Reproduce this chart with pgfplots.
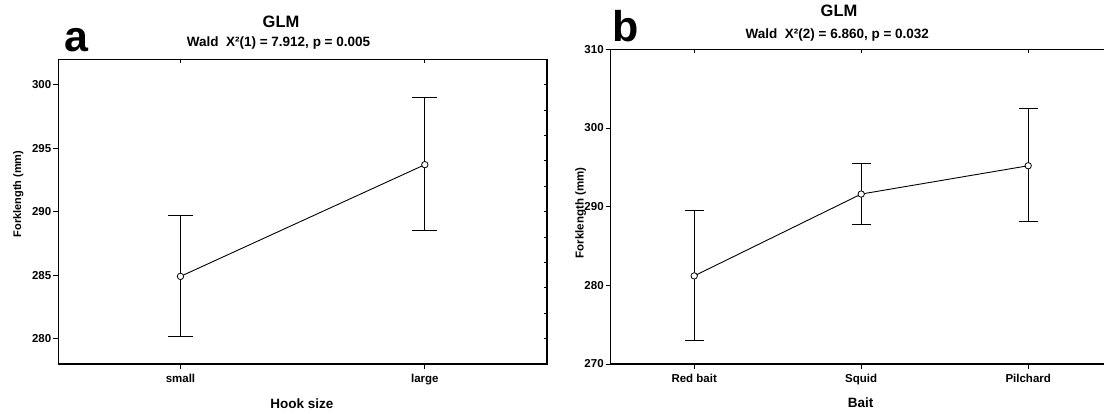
\documentclass[border=0pt]{standalone}
\usepackage{fontspec}
\setmainfont{Liberation Sans}
\usepackage{pgfplots}
\pgfplotsset{compat=1.18}
\usepackage{pgfplotstable}
\newcommand\fs[1]{\fontsize{#1}{#1}\selectfont\bfseries}

\pgfplotstableread{
x y ep em
0 284.9 4.8 4.7
1 293.7 5.3 5.2
}\hookdata
\pgfplotstableread{
x y ep em
0 281.2 8.3 8.2
1 291.6 3.9 3.8
2 295.2 7.3 7.1
}\baitdata

\pgfplotsset{
  mybase/.style={scale only axis, anchor=south west,
    /pgf/number format/assume math mode=true,
    ticklabel style={font=\fs{11.5}},
    tick style={black, line width=0.9pt},
    axis line style={line width=1.1pt}},
  mymain/.style={mybase, tick align=outside, xtick pos=left, ytick pos=left,
    major tick length=5pt,
    xticklabel style={yshift=-2pt},
    yticklabel style={xshift=1.5pt}},
  myover/.style={mybase, tick align=inside, xtick pos=right, ytick pos=right,
    major tick length=3.5pt, xticklabels={}, yticklabels={},
    axis line style={draw=none}},
  myplot/.style={black, line width=0.9pt, mark=*, mark size=3.2pt,
    mark options={fill=white, line width=0.8pt},
    error bars/.cd, y dir=both, y explicit,
    error bar style={line width=0.9pt},
    error mark options={rotate=90, mark size=#1, line width=0.9pt}},
}

\begin{document}
\begin{tikzpicture}
\path[use as bounding box] (0pt,0pt) rectangle (1104pt,413pt);

% ---------- panel a ----------
\begin{axis}[mymain, at={(58.3pt,49pt)}, width=488.7pt, height=304.7pt,
  xmin=-0.5, xmax=1.5, ymin=278, ymax=302,
  xtick={0,1}, xticklabels={small,large},
  ytick={280,285,...,300}]
\addplot+[myplot=12.5pt] table[x=x, y=y, y error plus=ep, y error minus=em] {\hookdata};
\end{axis}
\begin{axis}[myover, at={(58.3pt,49pt)}, width=488.7pt, height=304.7pt,
  xmin=-0.5, xmax=1.5, ymin=278, ymax=302,
  xtick={0,1}, ytick={280,282,...,300}]
\end{axis}

\node[anchor=base west, inner sep=0pt, font=\fs{43}] at (64.5pt,361pt) {a};
\node[anchor=base, inner sep=0pt, font=\fs{16.5}] at (281pt,385pt) {GLM};
\node[anchor=base, inner sep=0pt, font=\fs{13.5}] at (278.5pt,366pt) {Wald~~X²(1) = 7.912, p = 0.005};
\node[anchor=base, inner sep=0pt, font=\fs{13.5}] at (302pt,5pt) {Hook size};
\node[anchor=base, inner sep=0pt, rotate=90, font=\fs{11}] at (21.2pt,219pt) {Forklength (mm)};

% ---------- panel b ----------
\begin{axis}[mymain, at={(610.7pt,49pt)}, width=501pt, height=314.7pt,
  xmin=-0.5, xmax=2.5, ymin=270, ymax=310,
  xtick={0,1,2}, xticklabels={Red bait,Squid,Pilchard},
  ytick={270,280,...,310}]
\addplot+[myplot=9.3pt] table[x=x, y=y, y error plus=ep, y error minus=em] {\baitdata};
\end{axis}
\begin{axis}[myover, at={(610.7pt,49pt)}, width=501pt, height=314.7pt,
  xmin=-0.5, xmax=2.5, ymin=270, ymax=310,
  xtick={0,1,2}, ytick=\empty]
\end{axis}

\node[anchor=base west, inner sep=0pt, font=\fs{43}] at (612pt,371.5pt) {b};
\node[anchor=base, inner sep=0pt, font=\fs{16.5}] at (839pt,396.3pt) {GLM};
\node[anchor=base, inner sep=0pt, font=\fs{13.5}] at (837.3pt,374.7pt) {Wald~~X²(2) = 6.860, p = 0.032};
\node[anchor=base, inner sep=0pt, font=\fs{13.5}] at (860.6pt,5.7pt) {Bait};
\node[anchor=base, inner sep=0pt, rotate=90, font=\fs{11.5}] at (583.5pt,200pt) {Forklength (mm)};
\end{tikzpicture}
\end{document}
